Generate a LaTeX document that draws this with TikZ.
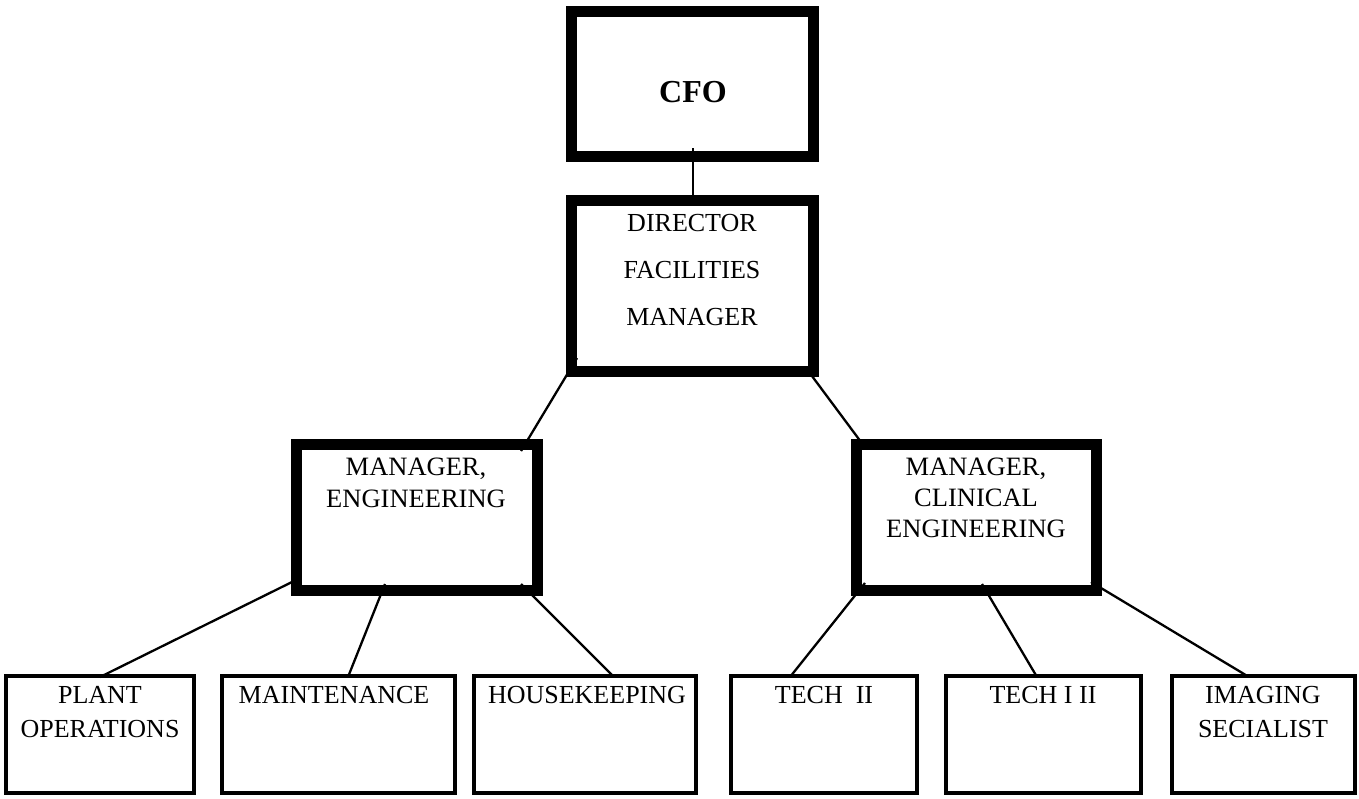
\documentclass[tikz,border=0pt]{standalone}
\usepackage{fontspec}
\setmainfont{Liberation Serif}
\usetikzlibrary{calc}
\begin{document}
\begin{tikzpicture}[x=1pt,y=-1pt,
  heavybox/.style={draw=black,line width=11pt,rectangle,inner sep=0pt,outer sep=0pt,fill=none},
  lightbox/.style={draw=black,line width=3.3pt,rectangle,inner sep=0pt,outer sep=0pt,minimum height=117pt},
  link/.style={draw=black,line width=2.3pt},
  txt/.style={anchor=base,align=center,inner sep=0pt,outer sep=0pt}]
\useasboundingbox (0,0) rectangle (1359,798);

% top two levels
\node[heavybox,minimum width=241.5pt,minimum height=145pt] (cfo) at (692.25,84) {};
\node[heavybox,minimum width=241.5pt,minimum height=171pt] (dir) at (692.25,286) {};
\node[heavybox,minimum width=241.5pt,minimum height=145.5pt] (mE) at (416.75,517.25) {};
\node[heavybox,minimum width=240.5pt,minimum height=145.5pt] (mC) at (976.25,517.25) {};

% bottom row
\node[lightbox,minimum width=188pt] (plant) at (100,734.5) {};
\node[lightbox,minimum width=233pt] (maint) at (338.5,734.5) {};
\node[lightbox,minimum width=222pt] (house) at (585,734.5) {};
\node[lightbox,minimum width=186pt] (techA) at (824,734.5) {};
\node[lightbox,minimum width=195pt] (techB) at (1043.5,734.5) {};
\node[lightbox,minimum width=183pt] (imag) at (1263.5,734.5) {};

% labels (anchored on the baseline of their last line)
\node[txt,font=\fontsize{32}{36}\selectfont\bfseries] (cfoT) at (693,102) {CFO};
\node[txt,font=\fontsize{26}{47}\selectfont] (dirT) at (692,325) {DIRECTOR\\FACILITIES\\MANAGER};
\node[txt,font=\fontsize{26.5}{32}\selectfont] (mET) at (416,507) {MANAGER,\\ENGINEERING};
\node[txt,font=\fontsize{26.5}{31}\selectfont] (mCT) at (976,537) {MANAGER,\\CLINICAL\\ENGINEERING};
\node[txt,font=\fontsize{26}{34}\selectfont] (plantT) at (100,737) {PLANT\\OPERATIONS};
\node[txt,font=\fontsize{26}{34}\selectfont] (maintT) at (334,703) {MAINTENANCE};
\node[txt,font=\fontsize{26}{34}\selectfont] (houseT) at (587,703) {HOUSEKEEPING};
\node[txt,font=\fontsize{26}{34}\selectfont] (techAT) at (824,703) {TECH\ \ II};
\node[txt,font=\fontsize{26}{34}\selectfont] (techBT) at (1043,703) {TECH I II};
\node[txt,font=\fontsize{26}{34}\selectfont] (imagT) at (1263,737) {IMAGING\\SECIALIST};

% reporting lines
\draw[link] ($(cfo.south)+(0.75,-8.5)$) -- ($(dir.north)+(0.75,3.5)$);
\draw[link] ($(dir.south west)+(5.5,-13.5)$) -- ($(mE.north east)+(-16.5,6.5)$);
\draw[link] ($(dir.south east)+(-7,-3.5)$) -- ($(mC.north west)+(8,1.5)$);
\draw[link] ($(mE.south west)+(-4,-8)$) -- ($(plant.north)+(0,1)$);
\draw[link] ($(mE.south west)+(89,-6)$) -- ($(maint.north)+(9.5,1)$);
\draw[link] ($(mE.south east)+(-16.5,-6)$) -- ($(house.north)+(29,1)$);
\draw[link] ($(mC.south west)+(9,-7)$) -- ($(techA.north)+(-34,1)$);
\draw[link] ($(mC.south west)+(126,-6)$) -- ($(techB.north)+(-6.5,1)$);
\draw[link] ($(mC.south east)+(-5.5,-8)$) -- ($(imag.north)+(-14.5,1)$);
\end{tikzpicture}
\end{document}
